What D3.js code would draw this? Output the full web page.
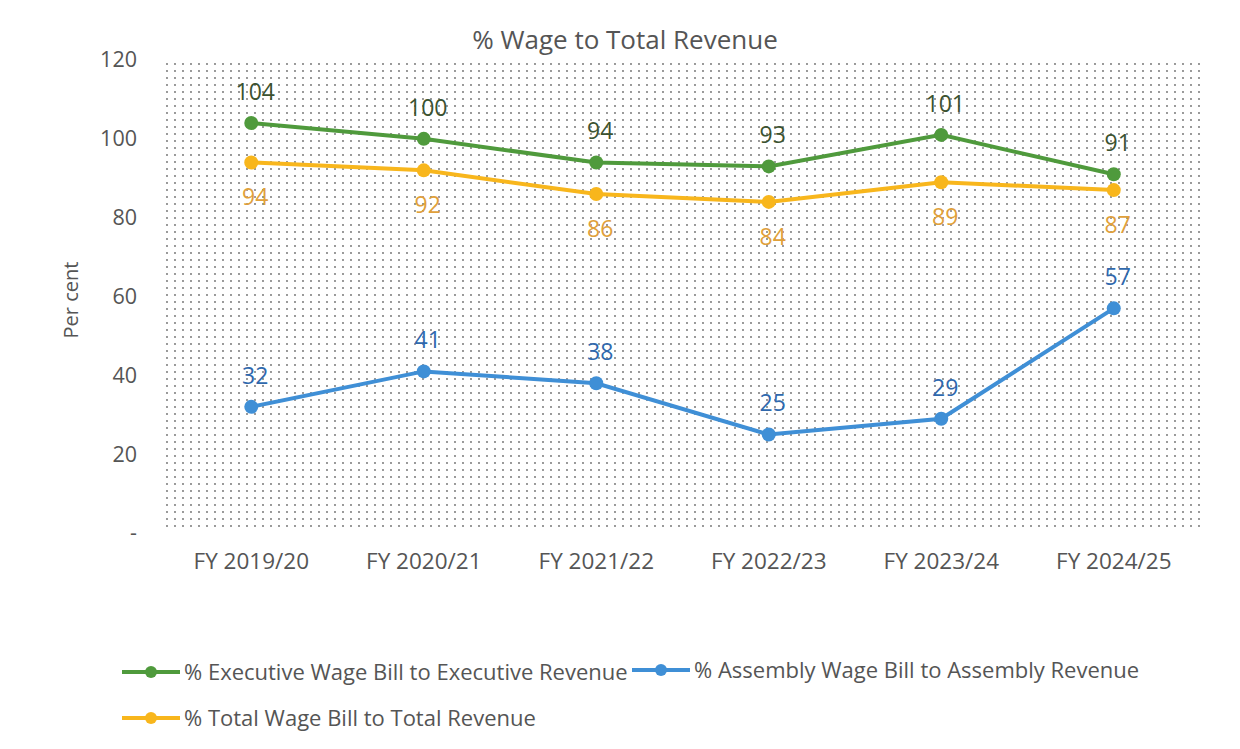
<!DOCTYPE html>
<html>
<head>
<meta charset="utf-8">
<script src="https://cdn.jsdelivr.net/npm/d3@7/dist/d3.min.js"></script>
<style>
  body { margin: 0; background: #fff; }
  svg text { font-family: "Open Sans", Lato, sans-serif; }
</style>
</head>
<body>
<svg id="chart" width="1240" height="749"></svg>
<script>
// data
const years = ["FY 2019/20", "FY 2020/21", "FY 2021/22", "FY 2022/23", "FY 2023/24", "FY 2024/25"];
const executive = [104, 100, 94, 93, 101, 91];
const assembly = [32, 41, 38, 25, 29, 57];
const total = [94, 92, 86, 84, 89, 87];
const yTicks = [0, 20, 40, 60, 80, 100, 120];

const series = [
  {name: "% Executive Wage Bill to Executive Revenue", values: executive, color: "#4f9a3c", label: "#3b5230", pos: "above"},
  {name: "% Assembly Wage Bill to Assembly Revenue", values: assembly, color: "#3f8fd6", label: "#2f68ad", pos: "above"},
  {name: "% Total Wage Bill to Total Revenue", values: total, color: "#f8b61c", label: "#e0a03a", pos: "below"}
];

const margin = {top: 62, right: 40, bottom: 221, left: 165};
const width = 1200 - margin.left;
const height = 528 - margin.top;

const svg = d3.select("#chart");

// dotted fill for the plot area
const defs = svg.append("defs");
const pat = defs.append("pattern")
    .attr("id", "dots")
    .attr("patternUnits", "userSpaceOnUse")
    .attr("width", 8)
    .attr("height", 7);
pat.append("circle")
    .attr("cx", 2).attr("cy", 2).attr("r", 0.9)
    .attr("fill", "#6a6a6a");

const g = svg.append("g")
    .attr("transform", `translate(${margin.left},${margin.top})`);

const x = d3.scaleBand().domain(years).range([0, width]);
const y = d3.scaleLinear().domain([0, 120]).range([height + 5, -2]);

g.append("rect")
    .attr("width", width)
    .attr("height", height)
    .attr("fill", "url(#dots)");

// title
svg.append("text")
    .attr("x", 625)
    .attr("y", 49)
    .attr("text-anchor", "middle")
    .attr("font-size", 26)
    .attr("fill", "#555")
    .text("% Wage to Total Revenue");

// y axis
const yAxis = g.append("g")
    .call(d3.axisLeft(y).tickValues(yTicks).tickSize(0).tickPadding(28)
      .tickFormat(d => d === 0 ? "-" : d));
yAxis.select(".domain").remove();
yAxis.selectAll("text").attr("font-size", 21.5).attr("fill", "#555");

svg.append("text")
    .attr("transform", "translate(78,300) rotate(-90)")
    .attr("text-anchor", "middle")
    .attr("font-size", 20)
    .attr("fill", "#555")
    .text("Per cent");

// x axis
const xAxis = g.append("g")
    .attr("transform", `translate(0,${height})`)
    .call(d3.axisBottom(x).tickSize(0).tickPadding(25));
xAxis.select(".domain").remove();
xAxis.selectAll("text").attr("font-size", 22.5).attr("fill", "#555");

const line = d3.line()
    .x((d, i) => x(years[i]) + x.bandwidth() / 2)
    .y(d => y(d));

series.forEach(s => {
  g.append("path")
      .datum(s.values)
      .attr("fill", "none")
      .attr("stroke", s.color)
      .attr("stroke-width", 4)
      .attr("d", line);

  g.selectAll(null)
      .data(s.values)
      .join("circle")
      .attr("cx", (d, i) => x(years[i]) + x.bandwidth() / 2)
      .attr("cy", d => y(d))
      .attr("r", 7)
      .attr("fill", s.color);

  g.selectAll(null)
      .data(s.values)
      .join("text")
      .attr("x", (d, i) => x(years[i]) + x.bandwidth() / 2 + 4)
      .attr("y", d => s.pos === "above" ? y(d) - 23 : y(d) + 43)
      .attr("text-anchor", "middle")
      .attr("font-size", 23)
      .attr("fill", s.label)
      .text(d => d);
});

// legend
const legendItems = [
  {s: series[0], x: 122, y: 672},
  {s: series[1], x: 632, y: 670},
  {s: series[2], x: 122, y: 718}
];
const legend = svg.append("g");
legendItems.forEach(l => {
  legend.append("line")
      .attr("x1", l.x).attr("x2", l.x + 58)
      .attr("y1", l.y).attr("y2", l.y)
      .attr("stroke", l.s.color)
      .attr("stroke-width", 4);
  legend.append("circle")
      .attr("cx", l.x + 29).attr("cy", l.y).attr("r", 6)
      .attr("fill", l.s.color);
  legend.append("text")
      .attr("x", l.x + 62)
      .attr("y", l.y + 8)
      .attr("font-size", 22)
      .attr("fill", "#555")
      .text(l.s.name);
});
</script>
</body>
</html>
